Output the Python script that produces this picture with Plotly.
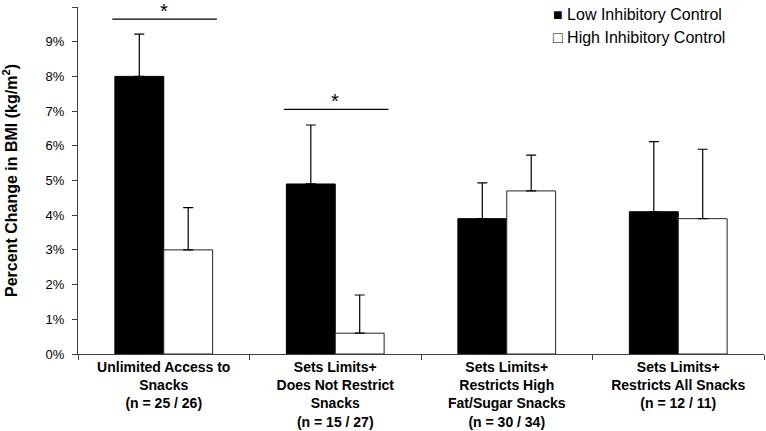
import plotly.graph_objects as go

categories = [
    "Unlimited Access to<br>Snacks<br>(n = 25 / 26)",
    "Sets Limits+<br>Does Not Restrict<br>Snacks<br>(n = 15 / 27)",
    "Sets Limits+<br>Restricts High<br>Fat/Sugar Snacks<br>(n = 30 / 34)",
    "Sets Limits+<br>Restricts All Snacks<br>(n = 12 / 11)",
]
series_names = ["Low Inhibitory Control", "High Inhibitory Control"]
low_ic = [8.0, 4.9, 3.9, 4.1]
low_ic_err = [1.22, 1.7, 1.03, 2.02]
high_ic = [3.0, 0.6, 4.7, 3.9]
high_ic_err = [1.22, 1.1, 1.03, 2.0]
y_ticks = [0, 1, 2, 3, 4, 5, 6, 7, 8, 9, 10]
y_tick_labels = [f"{v}%" for v in y_ticks]
sig_groups = [0, 1]
sig_levels = [9.65, 7.05]

FONT = "Liberation Sans, Arial, sans-serif"

fig = go.Figure()
fig.add_trace(go.Bar(
    x=categories, y=low_ic, name=series_names[0],
    marker=dict(color="black", line=dict(color="black", width=1)),
    error_y=dict(type="data", array=low_ic_err, arrayminus=[0]*4, symmetric=False,
                 color="black", thickness=1.2, width=5),
))
fig.add_trace(go.Bar(
    x=categories, y=high_ic, name=series_names[1],
    marker=dict(color="white", line=dict(color="#222222", width=1)),
    error_y=dict(type="data", array=high_ic_err, arrayminus=[0]*4, symmetric=False,
                 color="black", thickness=1.2, width=5),
))

for g, lvl in zip(sig_groups, sig_levels):
    fig.add_shape(type="line", xref="x", yref="y",
                  x0=g - 0.3, x1=g + 0.31, y0=lvl, y1=lvl,
                  line=dict(color="black", width=1.2))
    fig.add_annotation(x=g, y=lvl, xref="x", yref="y", text="*", showarrow=False,
                       yanchor="bottom", yshift=-5, font=dict(size=20, color="black", family=FONT))

# legend drawn as text entries (square glyph + label)
legend_glyphs = ["■", "□"]
for i, (gl, nm) in enumerate(zip(legend_glyphs, series_names)):
    fig.add_annotation(xref="paper", yref="paper", x=0.69, y=1.0 - i * 0.068,
                       xanchor="left", yanchor="middle", showarrow=False,
                       text=f"{gl} {nm}", font=dict(size=16, color="black", family=FONT),
                       yshift=-7)

fig.update_layout(
    width=766, height=431,
    margin=dict(l=78, r=2, t=7, b=77),
    plot_bgcolor="white", paper_bgcolor="white",
    barmode="group", bargap=0.43, bargroupgap=0,
    font=dict(family=FONT, color="black"),
    showlegend=False,
    xaxis=dict(
        type="category", showline=True, linecolor="#404040", linewidth=1.3,
        ticks="outside", tickson="boundaries", ticklen=5, tickcolor="#404040",
        tickfont=dict(size=14, family=FONT, color="black"),
        tickvals=categories, ticktext=["<b>" + c + "</b>" for c in categories],
        ticklabelstandoff=0, automargin=False,
        showgrid=False,
    ),
    yaxis=dict(
        range=[0, 10], tickvals=y_ticks, ticktext=y_tick_labels,
        showline=True, linecolor="#404040", linewidth=1.3,
        ticks="outside", ticklen=5, tickcolor="#404040", ticklabelstandoff=5,
        automargin=False,
        tickfont=dict(size=13, family=FONT, color="black"), showgrid=False, zeroline=False,
        title=dict(text="<b>Percent Change in BMI (kg/m<sup>2</sup>)</b>",
                   font=dict(size=16, family=FONT, color="black"), standoff=24),
    ),
)

fig.write_html("out.html", config={"displayModeBar": False},
               post_script="document.body.style.margin='0';")
